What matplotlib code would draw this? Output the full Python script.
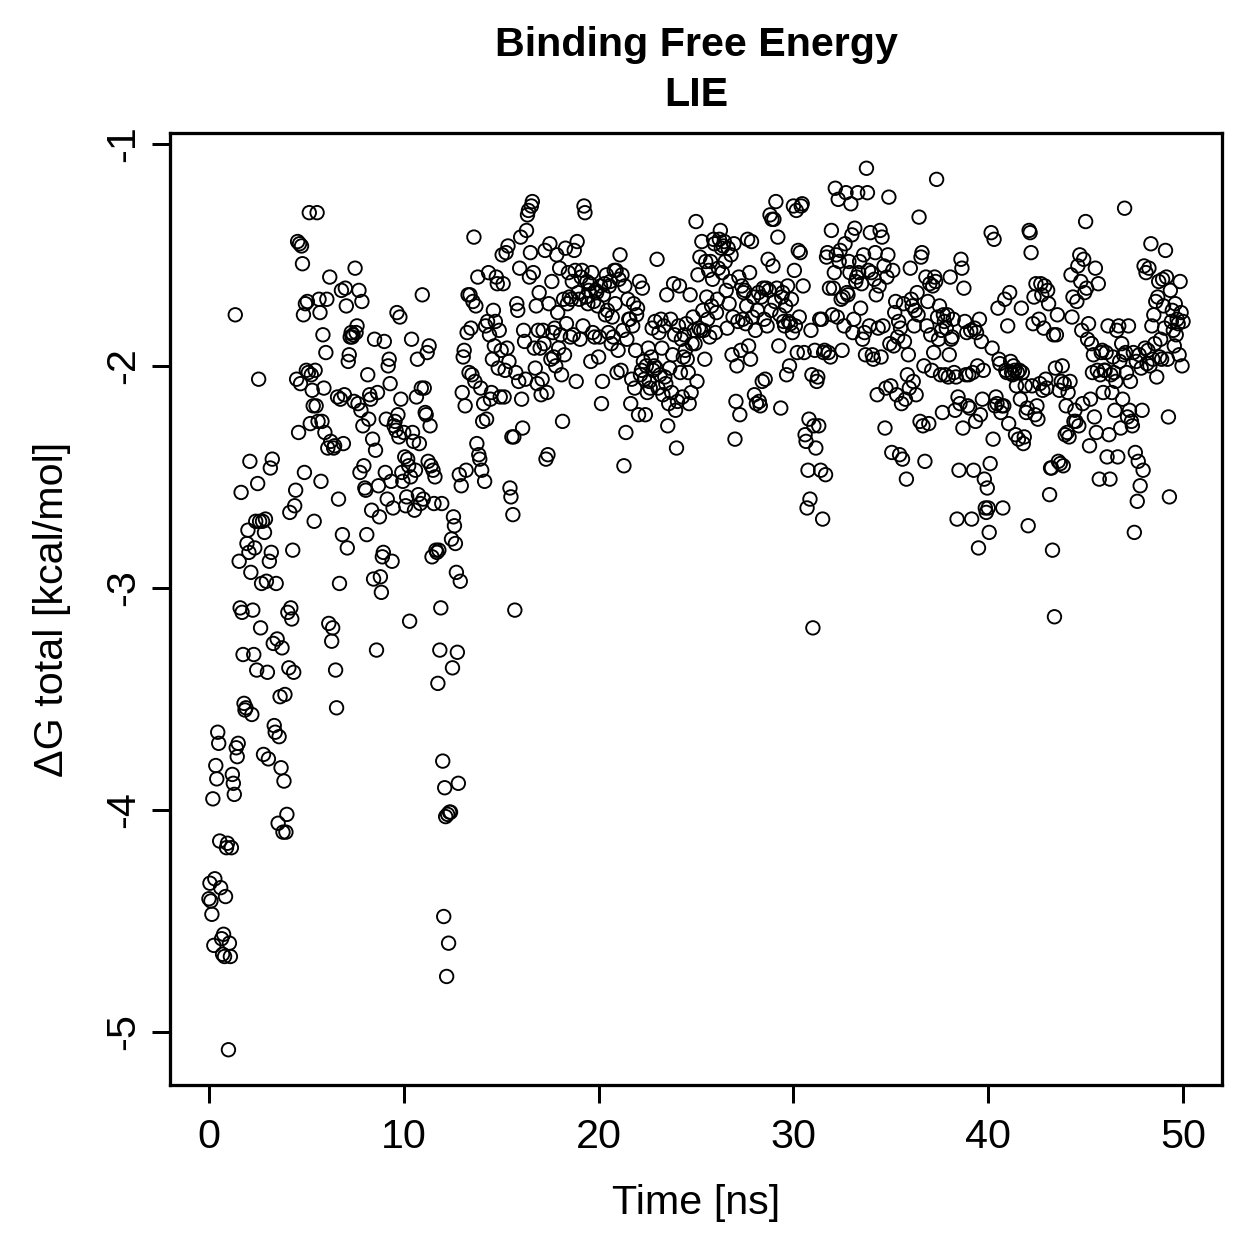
import numpy as np
import matplotlib.pyplot as plt

plt.rcParams['font.family'] = ['Liberation Sans', 'DejaVu Sans']
plt.rcParams['axes.unicode_minus'] = False

# LIE binding free energy (kcal/mol), one frame every 0.05 ns
dg_total = [
    # 0-1 ns
    -4.40, -4.33, -4.41, -4.47, -3.95, -4.61, -4.31, -3.80, -3.86, -3.65,
    -3.70, -4.14, -4.35, -4.58, -4.65, -4.56, -4.66, -4.39, -4.17, -4.15,
    # 1-2
    -5.08, -4.60, -4.66, -4.17, -3.84, -3.88, -3.93, -1.77, -3.72, -3.76,
    -3.70, -2.88, -3.09, -2.57, -3.11, -3.30, -3.52, -3.55, -3.54, -2.80,
    # 2-3
    -2.74, -2.84, -2.43, -2.93, -3.57, -3.10, -3.30, -2.82, -2.70, -3.37,
    -2.53, -2.06, -2.70, -3.18, -2.98, -2.70, -3.75, -2.75, -2.69, -2.97,
    # 3-4
    -3.38, -3.77, -2.88, -2.46, -2.84, -2.42, -3.25, -3.62, -3.65, -2.98,
    -3.23, -4.06, -3.67, -3.49, -3.81, -3.27, -4.10, -3.87, -3.48, -4.10,
    # 4-5
    -4.02, -3.11, -3.36, -2.66, -3.09, -3.14, -2.83, -3.38, -2.63, -2.56,
    -2.06, -1.44, -2.30, -1.45, -2.08, -1.46, -1.54, -1.77, -2.48, -1.72,
    # 5-6
    -2.02, -1.71, -2.03, -1.31, -2.26, -2.04, -2.11, -2.18, -2.70, -2.02,
    -2.18, -1.31, -2.25, -1.70, -1.76, -2.52, -2.25, -1.86, -2.10, -2.30,
    # 6-7
    -1.94, -1.70, -2.37, -3.16, -1.60, -2.34, -3.24, -3.18, -2.37, -2.36,
    -3.37, -3.54, -2.14, -2.60, -2.98, -2.15, -1.66, -2.76, -2.35, -2.13,
    # 7-8
    -1.65, -1.73, -2.82, -1.98, -1.95, -1.87, -1.85, -1.87, -1.86, -2.16,
    -1.56, -1.85, -1.82, -2.17, -1.66, -2.48, -2.20, -1.71, -2.27, -2.45,
    # 8-9
    -2.55, -2.56, -2.76, -2.04, -2.24, -2.13, -2.15, -2.65, -2.33, -2.96,
    -1.88, -2.38, -3.28, -2.12, -2.54, -2.68, -2.95, -3.02, -2.86, -2.84,
    # 9-10
    -1.89, -2.48, -2.24, -2.60, -2.00, -1.97, -2.08, -2.52, -2.88, -2.64,
    -2.27, -2.25, -2.29, -1.76, -2.22, -2.32, -1.78, -2.15, -2.48, -2.52,
    # 10-11
    -2.30, -2.41, -2.63, -2.59, -2.42, -2.45, -3.15, -2.50, -1.88, -2.30,
    -2.34, -2.65, -2.47, -2.14, -1.97, -2.58, -2.35, -2.62, -2.10, -1.68,
    # 11-12
    -2.60, -2.10, -2.21, -2.22, -1.94, -2.43, -1.91, -2.27, -2.45, -2.86,
    -2.47, -2.62, -2.50, -2.83, -2.84, -3.43, -2.83, -3.28, -3.09, -2.62,
    # 12-13
    -3.78, -4.48, -3.90, -4.03, -4.75, -4.02, -4.60, -4.01, -4.01, -2.78,
    -3.36, -2.68, -2.72, -2.80, -2.93, -3.29, -3.88, -2.49, -2.97, -2.54,
    # 13-14
    -2.12, -1.96, -1.93, -2.18, -2.47, -1.85, -1.68, -2.03, -1.68, -1.83,
    -2.04, -1.71, -1.42, -2.07, -1.73, -2.35, -1.60, -2.40, -2.42, -2.10,
    # 14-15
    -2.47, -2.25, -2.17, -2.52, -1.82, -2.24, -1.80, -1.58, -1.86, -2.15,
    -2.12, -1.97, -1.75, -1.91, -1.80, -1.60, -1.63, -2.01, -1.84, -2.14,
    # 15-16
    -1.93, -1.50, -1.63, -2.14, -2.02, -1.49, -1.92, -1.46, -1.98, -2.55,
    -2.59, -2.32, -2.67, -2.32, -3.10, -2.03, -1.72, -1.75, -2.07, -1.56,
    # 16-17
    -1.42, -2.15, -2.28, -1.84, -1.89, -2.06, -1.39, -1.32, -1.30, -1.60,
    -1.49, -1.28, -1.26, -1.58, -1.92, -2.01, -1.73, -2.08, -1.84, -1.67,
    # 17-18
    -1.92, -2.13, -2.06, -1.84, -1.90, -1.48, -2.42, -2.12, -2.40, -1.72,
    -1.45, -1.97, -1.62, -1.85, -1.96, -1.83, -2.00, -1.50, -1.76, -1.92,
    # 18-19
    -1.56, -1.86, -2.04, -2.25, -1.70, -1.95, -1.47, -1.81, -1.72, -1.58,
    -1.69, -1.87, -1.70, -1.62, -1.86, -1.48, -1.57, -2.07, -1.44, -1.67,
    # 19-20
    -1.70, -1.88, -1.60, -1.57, -1.82, -1.28, -1.31, -1.69, -1.62, -1.72,
    -1.66, -1.63, -1.98, -1.58, -1.85, -1.71, -1.87, -1.66, -1.67, -1.73,
    # 20-21
    -1.96, -1.87, -1.64, -2.17, -2.07, -1.68, -1.63, -1.77, -1.59, -1.75,
    -1.85, -1.64, -1.62, -1.90, -1.78, -1.87, -1.57, -1.72, -1.57, -2.03,
    # 21-22
    -1.93, -1.61, -1.50, -2.02, -1.59, -1.84, -2.45, -1.64, -2.30, -1.88,
    -1.70, -1.79, -1.79, -2.17, -2.06, -1.82, -1.72, -2.10, -1.93, -1.77,
    # 22-23
    -1.74, -2.22, -1.62, -2.04, -2.02, -1.65, -1.98, -2.06, -2.22, -2.00,
    -2.12, -1.92, -2.07, -2.10, -1.96, -1.83, -2.02, -2.00, -1.80, -2.01,
    # 23-24
    -1.52, -2.10, -1.85, -2.04, -1.79, -1.92, -2.13, -1.82, -2.05, -2.08,
    -1.68, -2.27, -2.17, -2.01, -1.79, -2.12, -1.95, -1.63, -1.86, -2.20,
    # 24-25
    -2.37, -2.16, -1.82, -1.64, -2.03, -1.88, -2.14, -1.96, -1.86, -1.93,
    -1.81, -1.97, -2.03, -2.17, -1.68, -2.12, -1.90, -1.78, -1.84, -1.90,
    # 25-26
    -1.35, -2.07, -1.59, -1.83, -1.51, -1.84, -1.44, -1.75, -1.84, -1.97,
    -1.53, -1.69, -1.79, -1.57, -1.87, -1.53, -1.73, -1.61, -1.43, -1.45,
    # 26-27
    -1.85, -1.76, -1.70, -1.56, -1.43, -1.39, -1.47, -1.58, -1.46, -1.44,
    -1.53, -1.66, -1.83, -1.47, -1.72, -1.62, -1.50, -1.95, -1.78, -1.45,
    # 27-28
    -2.33, -2.16, -2.00, -1.80, -1.60, -2.22, -1.93, -1.64, -1.79, -1.67,
    -1.66, -1.81, -1.73, -1.43, -1.91, -1.58, -1.97, -1.44, -1.78, -1.69,
    # 28-29
    -2.13, -1.84, -2.17, -1.75, -1.67, -2.16, -2.18, -1.69, -2.07, -1.65,
    -1.79, -2.06, -1.65, -1.82, -1.52, -1.66, -1.32, -1.75, -1.34, -1.55,
    # 29-30
    -1.34, -1.71, -1.26, -1.65, -1.42, -1.91, -1.77, -2.19, -1.69, -1.67,
    -1.80, -1.82, -1.73, -2.04, -1.64, -1.80, -2.00, -1.81, -1.70, -1.85,
    # 30-31
    -1.28, -1.57, -1.82, -1.30, -1.94, -1.48, -1.78, -1.49, -1.28, -1.27,
    -1.64, -1.94, -2.31, -2.34, -2.64, -2.47, -2.24, -2.60, -1.84, -2.04,
    # 31-32
    -3.18, -2.27, -1.93, -2.37, -2.07, -2.05, -2.27, -1.79, -2.47, -1.79,
    -2.69, -1.94, -1.93, -2.49, -1.51, -1.49, -1.94, -1.65, -1.96, -1.39,
    # 32-33
    -1.77, -1.65, -1.58, -1.20, -1.50, -1.78, -1.25, -1.53, -1.48, -1.70,
    -1.93, -1.69, -1.82, -1.45, -1.22, -1.67, -1.68, -1.53, -1.58, -1.27,
    # 33-34
    -1.41, -1.85, -1.79, -1.38, -1.62, -1.60, -1.22, -1.58, -1.53, -1.74,
    -1.63, -1.88, -1.50, -1.85, -1.95, -1.11, -1.22, -1.57, -1.82, -1.40,
    # 34-35
    -1.58, -1.95, -1.97, -1.61, -1.49, -1.68, -2.13, -1.83, -1.64, -1.39,
    -1.96, -1.42, -1.82, -1.55, -2.28, -2.10, -1.60, -1.50, -1.24, -1.90,
    # 35-36
    -2.09, -2.39, -1.57, -1.91, -1.76, -1.71, -2.13, -1.87, -1.80, -2.40,
    -1.83, -2.17, -2.42, -1.72, -1.89, -2.15, -2.51, -2.04, -1.95, -2.10,
    # 36-37
    -1.56, -1.70, -1.73, -2.07, -1.82, -1.75, -2.13, -1.67, -1.77, -1.33,
    -2.25, -1.51, -1.49, -2.27, -2.00, -2.43, -1.60, -1.82, -1.71, -2.26,
    # 37-38
    -1.63, -1.86, -2.02, -1.64, -1.94, -1.60, -1.62, -1.16, -1.78, -1.88,
    -1.73, -2.04, -1.84, -2.21, -1.77, -1.80, -2.04, -1.83, -1.77, -2.05,
    # 38-39
    -1.95, -1.60, -1.88, -1.87, -1.79, -2.03, -2.20, -2.05, -2.69, -2.14,
    -2.47, -2.17, -1.52, -1.56, -2.28, -1.65, -1.80, -2.04, -1.85, -2.18,
    # 39-40
    -2.04, -2.19, -1.84, -2.69, -2.03, -2.47, -1.83, -2.25, -1.85, -2.00,
    -2.82, -1.79, -2.22, -1.89, -2.15, -2.02, -2.51, -2.64, -2.66, -2.55,
    # 40-41
    -2.64, -2.75, -2.44, -1.40, -1.92, -2.33, -1.43, -2.18, -2.14, -2.17,
    -1.74, -1.97, -1.99, -2.21, -2.18, -2.64, -2.18, -1.70, -2.02, -2.03,
    # 41-42
    -1.82, -2.26, -1.67, -1.98, -2.03, -2.04, -2.00, -2.02, -2.31, -2.09,
    -2.03, -2.33, -2.02, -2.15, -1.74, -2.03, -2.35, -2.32, -2.09, -2.21,
    # 42-43
    -2.19, -2.72, -1.39, -1.40, -1.49, -2.09, -1.81, -1.69, -2.22, -1.63,
    -2.18, -2.24, -1.79, -2.08, -1.63, -1.68, -2.11, -1.83, -1.64, -2.06,
    # 43-44
    -2.10, -1.66, -1.72, -2.58, -2.46, -2.46, -2.83, -1.86, -3.13, -2.01,
    -1.86, -1.77, -2.43, -2.11, -2.44, -2.07, -2.00, -2.45, -2.08, -2.31,
    # 44-45
    -2.18, -2.30, -2.12, -2.32, -2.07, -1.59, -1.78, -1.69, -2.25, -2.20,
    -2.25, -1.71, -1.55, -2.27, -1.50, -1.62, -1.84, -2.17, -1.52, -1.67,
    # 45-46
    -1.35, -1.65, -1.88, -1.81, -2.36, -2.15, -1.90, -2.03, -1.95, -2.23,
    -1.56, -2.30, -2.02, -1.63, -2.51, -2.04, -1.94, -1.93, -2.12, -2.02,
    # 46-47
    -2.02, -1.94, -2.41, -1.82, -2.31, -2.51, -2.04, -2.12, -1.96, -2.03,
    -2.20, -2.07, -1.84, -2.41, -1.82, -1.98, -2.28, -1.90, -2.15, -1.95,
    # 47-48
    -1.29, -1.94, -2.03, -2.23, -1.82, -2.20, -2.07, -2.25, -2.27, -1.94,
    -2.75, -2.39, -1.98, -2.61, -2.43, -1.95, -2.54, -2.01, -2.20, -2.47,
    # 48-49
    -1.55, -1.92, -1.58, -1.99, -1.93, -1.56, -2.00, -1.45, -1.82, -1.97,
    -1.77, -1.90, -1.71, -2.05, -1.69, -1.62, -1.96, -1.88, -1.97, -1.61,
    # 49-50
    -1.73, -1.83, -1.48, -1.60, -1.97, -2.23, -2.59, -1.66, -1.80, -1.75,
    -1.84, -1.91, -1.72, -1.86, -1.79, -1.81, -1.95, -1.62, -1.76, -2.00,
    -1.80,
]
time_ns = np.linspace(0, 50, len(dg_total))

x_ticks = [0, 10, 20, 30, 40, 50]
y_ticks = [-5, -4, -3, -2, -1]

W = H = 1259
DPI = 180
fig = plt.figure(figsize=(W / DPI, H / DPI), dpi=DPI)
ax = fig.add_axes([170 / W, 1 - 1085 / H, (1222 - 170) / W, (1085 - 133) / H])

ax.scatter(time_ns, dg_total, s=29, facecolors='none', edgecolors='black',
           linewidths=0.75)

# R-style 4% padding around the data range
def padded(lo, hi):
    d = (hi - lo) * 0.04
    return lo - d, hi + d

ax.set_xlim(*padded(min(time_ns), max(time_ns)))
ax.set_ylim(*padded(min(dg_total), max(dg_total)))

ax.set_xticks(x_ticks)
ax.set_xticklabels([str(t) for t in x_ticks])
ax.set_yticks(y_ticks)
ax.set_yticklabels([str(t) for t in y_ticks])

for sp in ax.spines.values():
    sp.set_linewidth(1.3)
ax.tick_params(direction='out', length=7.2, width=1.2, labelsize=16.5, color='black')
ax.tick_params(axis='x', pad=6)
ax.tick_params(axis='y', pad=4, labelrotation=90)
for lab in ax.get_yticklabels():
    lab.set_verticalalignment('center')
    lab.set_horizontalalignment('right')

fig.text(696 / W, 1 - 45 / H, 'Binding Free Energy', ha='center', va='center',
         fontsize=16.5, fontweight='bold')
fig.text(696 / W, 1 - 95 / H, 'LIE', ha='center', va='center',
         fontsize=16.5, fontweight='bold')
fig.text(696 / W, 1 - 1203 / H, 'Time [ns]', ha='center', va='center', fontsize=16.5)
fig.text(52 / W, 1 - 609 / H, 'ΔG total [kcal/mol]', ha='center', va='center',
         rotation=90, fontsize=16.5)

fig.savefig('out.png', dpi=DPI)
